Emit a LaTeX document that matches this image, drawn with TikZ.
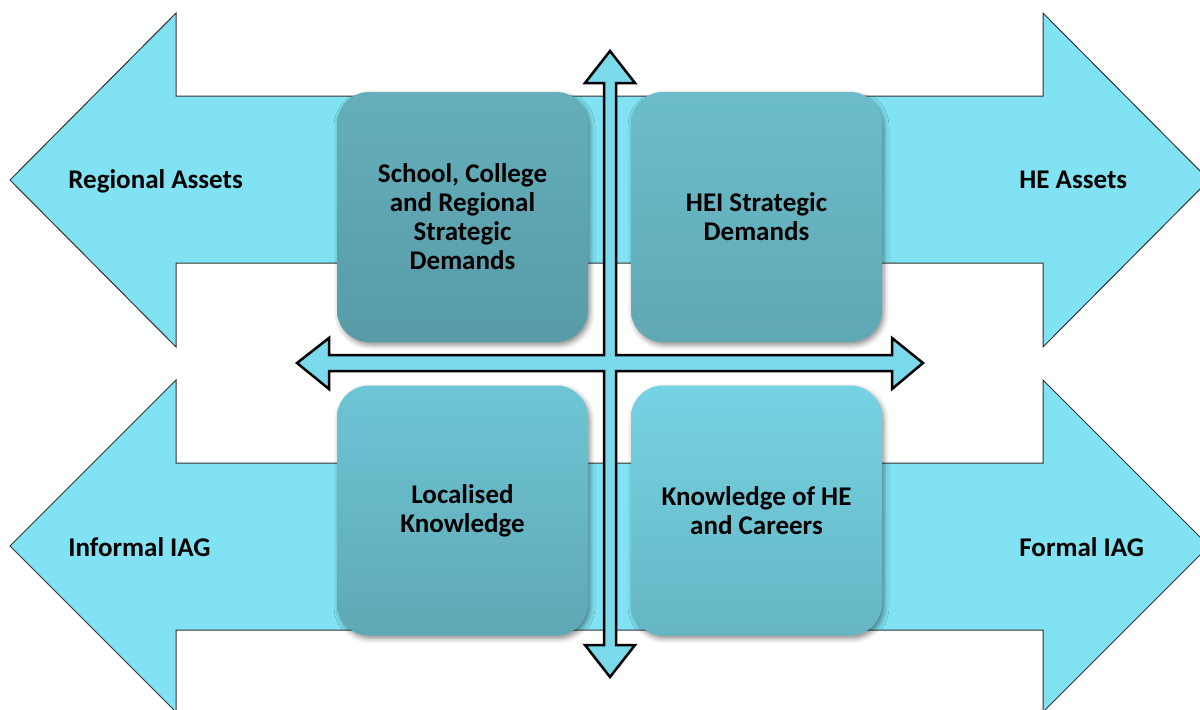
\documentclass[tikz,border=0pt]{standalone}
\usepackage{fontspec}
\setmainfont{Carlito}
\usetikzlibrary{shadows.blur}
\definecolor{arrowcyan}{RGB}{128,226,242}
\definecolor{crosscyan}{RGB}{122,217,235}
\definecolor{tlTop}{RGB}{100,175,187}
\definecolor{tlBot}{RGB}{88,155,167}
\definecolor{trTop}{RGB}{108,189,203}
\definecolor{trBot}{RGB}{95,168,180}
\definecolor{blTop}{RGB}{110,197,213}
\definecolor{blBot}{RGB}{95,168,181}
\definecolor{brTop}{RGB}{118,211,227}
\definecolor{brBot}{RGB}{102,182,196}

\begin{document}
\begin{tikzpicture}[x=0.5pt,y=-0.5pt,
	quad/.style={rounded corners=16pt,minimum width=125.5pt,minimum height=125pt,inner sep=4pt,align=center,
		font=\bfseries\fontsize{13.5}{14.5}\selectfont,
		blur shadow={shadow xshift=1pt,shadow yshift=-1.5pt,shadow blur radius=2.5pt,shadow opacity=45}},
	sidetext/.style={anchor=base west,inner sep=0pt,font=\bfseries\fontsize{13.5}{14.5}\selectfont}]
		\useasboundingbox (0,0) rectangle (1200,709);
		\clip (0,0) rectangle (1200,709);
		%upper double arrow
		\draw[fill=arrowcyan,draw=black!80,line width=0.5pt] (10,180) -- (176,13) -- (176,96) -- (1043,96) -- (1043,13) -- (1209,180)
			-- (1043,347) -- (1043,263) -- (176,263) -- (176,347) -- cycle;
		%lower double arrow
		\draw[fill=arrowcyan,draw=black!80,line width=0.5pt] (10,546) -- (176,380) -- (176,463) -- (1043,463) -- (1043,380) -- (1209,546)
			-- (1043,712) -- (1043,630) -- (176,630) -- (176,712) -- cycle;
		
		%quadrant boxes
		\node[quad,top color=tlTop,bottom color=tlBot] (school) at (462.5,217) {School, College\\and Regional\\Strategic\\Demands};
		\node[quad,top color=trTop,bottom color=trBot] (hei) at (756.5,217) {HEI Strategic\\Demands};
		\node[quad,top color=blTop,bottom color=blBot] (local) at (462.5,510.5) {Localised\\Knowledge};
		\node[quad,top color=brTop,bottom color=brBot] (careers) at (756.5,510.5) {Knowledge of HE\\and Careers};
		
		%four way cross
		\draw[fill=crosscyan,line width=1.25pt] (610,51) -- (635,83) -- (616,83) -- (616,355) -- (892,355) -- (892,338) -- (923,363)
			-- (892,389) -- (892,371) -- (616,371) -- (616,645) -- (635,645) -- (610,677) -- (585,645) -- (604,645)
			-- (604,371) -- (329,371) -- (329,389) -- (297,363) -- (329,338) -- (329,355) -- (604,355) -- (604,83)
			-- (585,83) -- cycle;
		
		%nodes
		\node[sidetext] (regional) at (68,188) {Regional Assets};
		\node[sidetext] (heassets) at (1019,188) {HE Assets};
		\node[sidetext] (informal) at (68,556) {Informal IAG};
		\node[sidetext] (formal) at (1019,556) {Formal IAG};
	\end{tikzpicture}
\end{document}
